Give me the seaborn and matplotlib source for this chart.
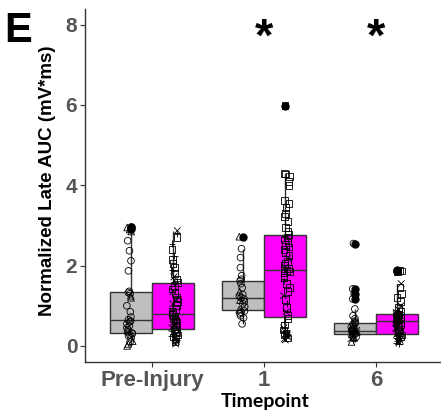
import numpy as np
import pandas as pd
import matplotlib
matplotlib.use("Agg")
import matplotlib.pyplot as plt
import seaborn as sns

# ---------------- data ----------------
timepoints = ["Pre-Injury", "1", "6"]
groups = ["Control", "Treated"]

pre_ctrl = [0.0, 0.05, 0.1, 0.12, 0.2, 0.25, 0.28, 0.3, 0.32, 0.35, 0.38, 0.4,
            0.45, 0.5, 0.55, 0.6, 0.62, 0.65, 0.72, 0.85, 1.0, 1.2, 1.25, 1.3,
            1.33, 1.36, 1.87, 2.12, 2.37, 2.62, 2.85, 2.9, 2.95, 2.95]
pre_ctrl_shape = "^^o^oooooo^oooooooooo^^ooooooo^^^^"

pre_trt = [0.05, 0.1, 0.12, 0.15, 0.18, 0.2, 0.22, 0.25, 0.27, 0.3, 0.32, 0.34, 0.36, 0.38, 0.4,
           0.42, 0.45, 0.48, 0.5, 0.52, 0.55, 0.58, 0.6, 0.63, 0.66, 0.68, 0.7, 0.73, 0.76, 0.79,
           0.82, 0.86, 0.9, 0.95, 1.0, 1.05, 1.1, 1.15, 1.2, 1.25, 1.3, 1.35, 1.42, 1.5, 1.55,
           1.58, 1.62, 1.66, 1.72, 1.8, 1.88, 1.95, 2.05, 2.15, 2.25, 2.4, 2.55, 2.7, 2.8, 2.87]
pre_trt_shape = ("xsx+sxs+sxsxs+s"
                 "sxs+sxsxs+sxs+s"
                 "sxs+sxsxs+sxss+"
                 "s+sxs+sss+s+s+x")

t1_ctrl = [0.55, 0.7, 0.75, 0.8, 0.84, 0.87, 0.9, 0.98, 1.05, 1.1, 1.14, 1.17, 1.2,
           1.24, 1.28, 1.35, 1.45, 1.55, 1.62, 1.66, 1.75, 1.95, 2.2, 2.42, 2.72]
t1_ctrl_shape = "oooooo^ooo^oooo^oooooooo^^"

t1_trt = [0.15, 0.18, 0.2, 0.22, 0.24, 0.26, 0.28, 0.3, 0.32, 0.35, 0.4, 0.45, 0.52, 0.6, 0.68,
          0.75, 0.85, 0.95, 1.05, 1.15, 1.25, 1.35, 1.45, 1.55, 1.62, 1.7, 1.76, 1.82, 1.86, 1.88,
          1.92, 1.96, 2.0, 2.05, 2.1, 2.18, 2.25, 2.32, 2.4, 2.46, 2.52, 2.58, 2.64, 2.7, 2.74,
          2.78, 2.85, 2.95, 3.1, 3.22, 3.3, 3.45, 3.55, 3.62, 4.0, 4.1, 4.22, 4.28, 4.3, 5.98]
t1_trt_shape = ("xxsx+xsxs+sxs+s"
                "sxs+sxsss+sssss"
                "sxsssxssssssss+"
                "sssssssssssssss")

t6_ctrl = [0.1, 0.15, 0.18, 0.2, 0.22, 0.25, 0.27, 0.28, 0.29, 0.31, 0.32, 0.33, 0.34, 0.35,
           0.36, 0.37, 0.375, 0.38, 0.39, 0.4, 0.42, 0.44, 0.47, 0.5, 0.54, 0.56, 0.58, 0.62,
           0.68, 0.75, 0.92, 1.17, 1.3, 1.42, 2.55]
t6_ctrl_shape = "^+x^o+xo^+o+x^oo+oxo^ooooooooooooooo"

t6_trt = [0.05, 0.08, 0.1, 0.12, 0.14, 0.16, 0.18, 0.2, 0.22, 0.23, 0.24, 0.25, 0.27, 0.28,
          0.29, 0.31, 0.33, 0.36, 0.4, 0.44, 0.48, 0.5, 0.52, 0.55, 0.57, 0.59, 0.61, 0.62,
          0.64, 0.66, 0.68, 0.7, 0.71, 0.72, 0.73, 0.74, 0.75, 0.76, 0.77, 0.78, 0.79,
          0.81, 0.83, 0.86, 0.9, 0.95, 1.0, 1.1, 1.2, 1.3, 1.45, 1.55, 1.86, 1.87, 1.88]
t6_trt_shape = ("++x+x+x+sx+xs+"
                "x+sxsxs+sxs+sx"
                "sxsxs+sxsxs+s"
                "sxsxsxssssxsss")

y_ticks = [0, 2, 4, 6, 8]
signif = ["1", "6"]

# ---------------- build table ----------------
rows = []
for tp, g, vals, shp in [
    ("Pre-Injury", "Control", pre_ctrl, pre_ctrl_shape),
    ("Pre-Injury", "Treated", pre_trt, pre_trt_shape),
    ("1", "Control", t1_ctrl, t1_ctrl_shape),
    ("1", "Treated", t1_trt, t1_trt_shape),
    ("6", "Control", t6_ctrl, t6_ctrl_shape),
    ("6", "Treated", t6_trt, t6_trt_shape),
]:
    for i, v in enumerate(vals):
        rows.append({"Timepoint": tp, "Group": g, "AUC": v, "shape": shp[i % len(shp)]})
df = pd.DataFrame(rows)

# ---------------- figure ----------------
sns.set_theme(style="white")
plt.rcParams["font.family"] = ["Liberation Sans", "DejaVu Sans"]

W, H = 441, 413
fig = plt.figure(figsize=(W / 100, H / 100), dpi=100)
ax_left, ax_right, ax_top, ax_bottom = 85, 441, 8.6, 362
ax = fig.add_axes([ax_left / W, 1 - ax_bottom / H, (ax_right - ax_left) / W, (ax_bottom - ax_top) / H])

line_c = "#333333"
palette = {"Control": "#BEBEBE", "Treated": "#FF00FF"}

sns.boxplot(data=df, x="Timepoint", y="AUC", hue="Group", order=timepoints, hue_order=groups,
            palette=palette, width=0.75, gap=0, linecolor=line_c, linewidth=1.0, saturation=1,
            showcaps=False,
            flierprops=dict(marker="o", markerfacecolor="black", markeredgecolor="black",
                            markersize=5), legend=False, ax=ax)

np.random.seed(3)
marker_map = {"o": "o", "^": "^", "s": "s", "+": "+", "x": "x"}
for code, m in marker_map.items():
    sub = df[df["shape"] == code]
    if sub.empty:
        continue
    n_before = len(ax.collections)
    sns.stripplot(data=sub, x="Timepoint", y="AUC", hue="Group", order=timepoints,
                  hue_order=groups, dodge=True, jitter=0.055, marker=m, size=4.8,
                  palette=palette, linewidth=0.6, edgecolor="black", legend=False, ax=ax)
    for coll in ax.collections[n_before:]:
        coll.set_facecolor("none")
        coll.set_edgecolor("black")
        coll.set_linewidth(0.6)

ax.set_xlim(-0.6, -0.6 + (ax_right - ax_left) / 112.0)
ax.set_ylim(-0.4, 8.4)
ax.set_yticks(y_ticks)
ax.set_yticklabels([str(t) for t in y_ticks])
sns.despine(ax=ax)
for s in ["left", "bottom"]:
    ax.spines[s].set_color(line_c)
    ax.spines[s].set_linewidth(1.0)
ax.tick_params(axis="both", which="both", length=3.5, width=0.8, color=line_c,
               colors="#555555", direction="out", left=True, bottom=True, pad=2)
for lab in ax.get_yticklabels():
    lab.set_fontsize(15)
    lab.set_fontweight("bold")
for lab in ax.get_xticklabels():
    lab.set_fontsize(16)
    lab.set_fontweight("bold")

ax.set_xlabel("")
ax.set_ylabel("")
fig.text(265 / W, 1 - 401 / H, "Timepoint", ha="center", va="center", fontsize=14,
         fontweight="bold", color="black", family=["Lato", "DejaVu Sans"])
fig.text(48 / W, 1 - 181 / H, "Normalized Late AUC (mV*ms)", ha="center", va="center",
         rotation=90, fontsize=13.5, fontweight="bold", color="black")
fig.text(4 / W, 1 - 31 / H, "E", ha="left", va="center", fontsize=30, fontweight="bold",
         color="black")

cat_pos = {c: i for i, c in enumerate(timepoints)}
for s in signif:
    ax.text(cat_pos[s], 7.65, "*", ha="center", va="center", fontsize=34, fontweight="bold",
            color="black")

fig.savefig("out.png", dpi=100)
